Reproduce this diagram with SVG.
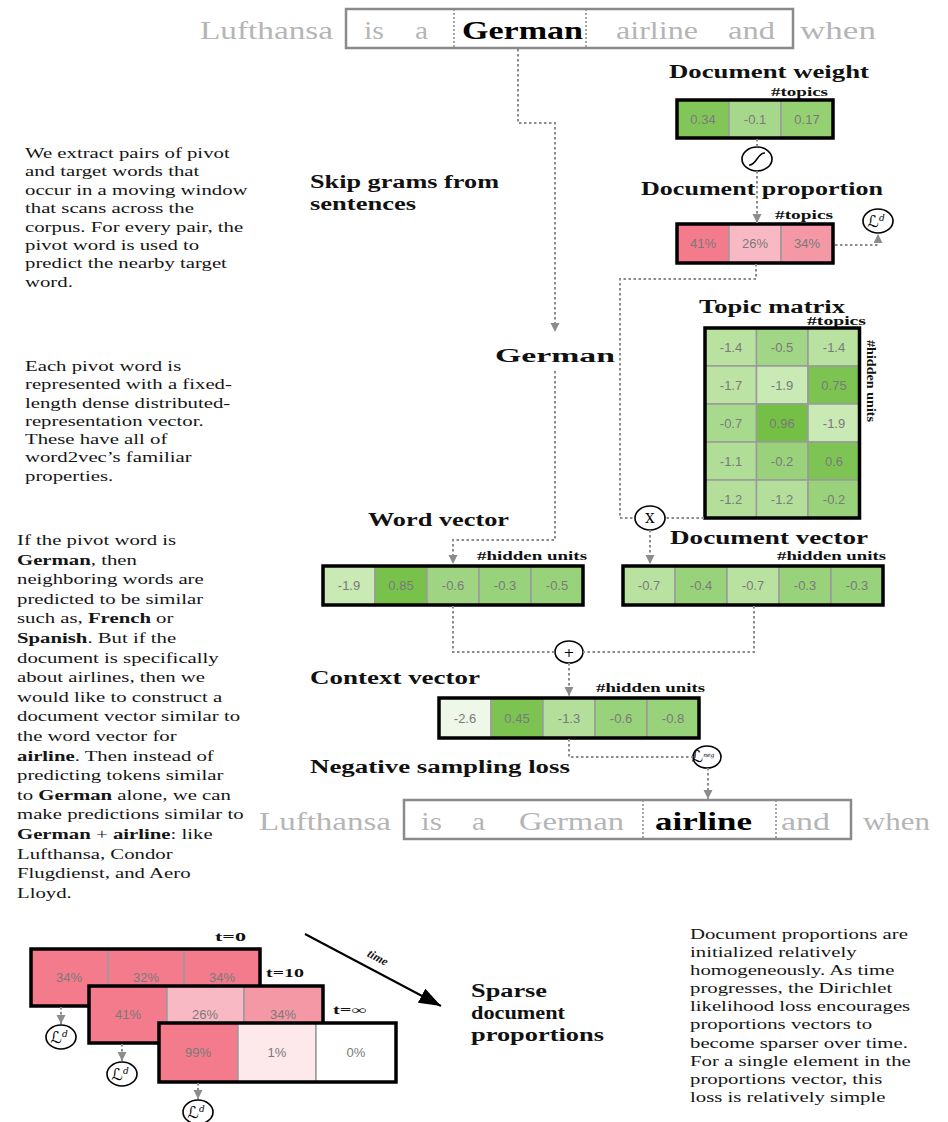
<svg xmlns="http://www.w3.org/2000/svg" width="948" height="1122" viewBox="0 0 948 1122">
<defs>
<style>
.bg{fill:#ffffff}
.lbl{font-family:"Liberation Serif",serif;font-weight:bold;font-size:18px;fill:#111}
.dim{font-family:"Liberation Serif",serif;font-weight:bold;font-size:12px;fill:#111}
.para{font-family:"Liberation Serif",serif;font-size:15.5px;fill:#151515}
.b{font-weight:bold}
.num{font-family:"Liberation Sans",Arial,sans-serif;font-size:13px;fill:#7a7a7a;text-anchor:middle}
.word{font-family:"Liberation Serif",serif;font-size:26px;fill:#b5b5b5}
.word.key{font-weight:bold;fill:#000}
.cell{stroke:#9a9a9a;stroke-width:1.5}
.frame{fill:none;stroke:#000;stroke-width:3.5}
.sent{fill:none;stroke:#8a8a8a;stroke-width:2.5}
.sep{stroke:#8a8a8a;stroke-width:1.5;stroke-dasharray:2 2}
.op{fill:#fff;stroke:#000;stroke-width:1.6}
.optxt{font-family:"DejaVu Serif",serif;font-size:13px;fill:#000;text-anchor:middle}
.loss{font-family:"DejaVu Serif","DejaVu Sans",serif;font-style:italic;font-size:16px;fill:#000;text-anchor:middle}
.dot{fill:none;stroke:#8c8c8c;stroke-width:2;stroke-dasharray:2.5 2.5}
</style>
<marker id="ah" markerUnits="userSpaceOnUse" markerWidth="10" markerHeight="10" refX="9" refY="4.5" orient="auto">
<path d="M0,0 L9,4.5 L0,9 z" fill="#8c8c8c"/>
</marker>
<marker id="ahk" markerUnits="userSpaceOnUse" markerWidth="24" markerHeight="18" refX="22" refY="8" orient="auto">
<path d="M0,0 L22,8 L0,16 z" fill="#000"/>
</marker>
</defs>
<rect class="bg" x="0" y="0" width="948" height="1122"/>

<!-- input sentence with the skip-gram window -->
<g id="sentence-top">
<rect class="sent" x="346" y="9" width="447" height="39"/>
<line class="sep" x1="454" y1="9" x2="454" y2="48"/>
<line class="sep" x1="586" y1="9" x2="586" y2="48"/>
<text class="word" x="200" y="39" textLength="133" lengthAdjust="spacingAndGlyphs">Lufthansa</text>
<text class="word" x="364" y="39" textLength="20" lengthAdjust="spacingAndGlyphs">is</text>
<text class="word" x="415" y="39" textLength="13" lengthAdjust="spacingAndGlyphs">a</text>
<text class="word key" x="462" y="39" textLength="121" lengthAdjust="spacingAndGlyphs">German</text>
<text class="word" x="616" y="39" textLength="82" lengthAdjust="spacingAndGlyphs">airline</text>
<text class="word" x="728" y="39" textLength="47" lengthAdjust="spacingAndGlyphs">and</text>
<text class="word" x="800" y="39" textLength="76" lengthAdjust="spacingAndGlyphs">when</text>
</g>

<!-- explanatory notes -->
<g id="note-skipgram">
<text class="para" transform="translate(25 158) scale(1.34 1)">
<tspan x="0" y="0">We extract pairs of pivot</tspan>
<tspan x="0" y="18.4">and target words that</tspan>
<tspan x="0" y="36.8">occur  in a moving window</tspan>
<tspan x="0" y="55.2">that scans across the</tspan>
<tspan x="0" y="73.6">corpus. For every pair, the</tspan>
<tspan x="0" y="92">pivot word is used to</tspan>
<tspan x="0" y="110.4">predict the nearby target</tspan>
<tspan x="0" y="128.8">word.</tspan>
</text>
</g>
<g id="note-wordvec">
<text class="para" transform="translate(25 371) scale(1.34 1)">
<tspan x="0" y="0">Each pivot word is</tspan>
<tspan x="0" y="18.3">represented with a fixed-</tspan>
<tspan x="0" y="36.6">length dense distributed-</tspan>
<tspan x="0" y="54.9">representation vector.</tspan>
<tspan x="0" y="73.2">These have all of</tspan>
<tspan x="0" y="91.5">word2vec’s familiar</tspan>
<tspan x="0" y="109.8">properties.</tspan>
</text>
</g>
<g id="note-context" class="para" transform="translate(17 545) scale(1.34 1)">
<text x="0" y="0">If the pivot word is</text>
<text x="0" y="19.6"><tspan class="b">German</tspan>, then</text>
<text x="0" y="39.2">neighboring words are</text>
<text x="0" y="58.8">predicted to be similar</text>
<text x="0" y="78.4">such as, <tspan class="b">French</tspan> or</text>
<text x="0" y="98"><tspan class="b">Spanish</tspan>. But if the</text>
<text x="0" y="117.6">document is specifically</text>
<text x="0" y="137.2">about airlines, then we</text>
<text x="0" y="156.8">would like to construct a</text>
<text x="0" y="176.4">document vector similar to</text>
<text x="0" y="196">the word vector for</text>
<text x="0" y="215.6"><tspan class="b">airline</tspan>. Then instead of</text>
<text x="0" y="235.2">predicting tokens similar</text>
<text x="0" y="254.8">to <tspan class="b">German</tspan> alone, we can</text>
<text x="0" y="274.4">make predictions similar to</text>
<text x="0" y="294"><tspan class="b">German</tspan> + <tspan class="b">airline</tspan>: like</text>
<text x="0" y="313.6">Lufthansa, Condor</text>
<text x="0" y="333.2">Flugdienst, and Aero</text>
<text x="0" y="352.8">Lloyd.</text>
</g>
<g id="note-sparsity">
<text class="para" transform="translate(690 939) scale(1.34 1)">
<tspan x="0" y="0">Document proportions are</tspan>
<tspan x="0" y="18.1">initialized relatively</tspan>
<tspan x="0" y="36.2">homogeneously. As time</tspan>
<tspan x="0" y="54.3">progresses, the Dirichlet</tspan>
<tspan x="0" y="72.4">likelihood loss encourages</tspan>
<tspan x="0" y="90.5">proportions vectors to</tspan>
<tspan x="0" y="108.6">become sparser over time.</tspan>
<tspan x="0" y="126.7">For a single element in the</tspan>
<tspan x="0" y="144.8">proportions vector, this</tspan>
<tspan x="0" y="162.9">loss is relatively simple</tspan>
</text>
</g>

<!-- section labels -->
<g id="label-skipgrams">
<text class="lbl" x="310" y="188" textLength="189" lengthAdjust="spacingAndGlyphs">Skip grams from</text>
<text class="lbl" x="310" y="210" textLength="106" lengthAdjust="spacingAndGlyphs">sentences</text>
</g>
<g id="pivot-word">
<text class="lbl" x="495" y="362" font-size="26" textLength="120" lengthAdjust="spacingAndGlyphs">German</text>
</g>

<!-- document weight -->
<g id="doc-weight">
<text class="lbl" x="669" y="78" textLength="200" lengthAdjust="spacingAndGlyphs">Document weight</text>
<text class="dim" x="771" y="96" textLength="57" lengthAdjust="spacingAndGlyphs">#topics</text>
<rect class="cell" x="677" y="100" width="52" height="38" fill="#82c65a"/>
<rect class="cell" x="729" y="100" width="52" height="38" fill="#a5d88b"/>
<rect class="cell" x="781" y="100" width="52" height="38" fill="#95d072"/>
<rect class="frame" x="677" y="100" width="156" height="38"/>
<text class="num" x="703" y="124">0.34</text>
<text class="num" x="755" y="124">-0.1</text>
<text class="num" x="807" y="124">0.17</text>
</g>

<!-- softmax -->
<g id="softmax">
<ellipse class="op" cx="757" cy="159" rx="15" ry="12"/>
<path d="M749 165 C756 166 758 152 765 153" fill="none" stroke="#000" stroke-width="1.5"/>
</g>

<!-- document proportion -->
<g id="doc-proportion">
<text class="lbl" x="641" y="195" textLength="242" lengthAdjust="spacingAndGlyphs">Document proportion</text>
<text class="dim" x="775" y="219" textLength="58" lengthAdjust="spacingAndGlyphs">#topics</text>
<rect class="cell" x="677" y="224" width="52" height="39" fill="#f47b8b"/>
<rect class="cell" x="729" y="224" width="52" height="39" fill="#f9b9c4"/>
<rect class="cell" x="781" y="224" width="52" height="39" fill="#f598a6"/>
<rect class="frame" x="677" y="224" width="156" height="39"/>
<text class="num" x="703" y="248">41%</text>
<text class="num" x="755" y="248">26%</text>
<text class="num" x="807" y="248">34%</text>
</g>
<g id="loss-dirichlet">
<ellipse class="op" cx="878" cy="221" rx="15" ry="12"/>
<text class="loss" x="876" y="227">ℒ<tspan font-size="9" dy="-6">d</tspan></text>
</g>

<!-- topic matrix -->
<g id="topic-matrix">
<text class="lbl" x="699" y="313" textLength="146" lengthAdjust="spacingAndGlyphs">Topic matrix</text>
<text class="dim" x="807" y="325" textLength="59" lengthAdjust="spacingAndGlyphs">#topics</text>
<text class="dim" transform="translate(867 381) rotate(90)" text-anchor="middle" textLength="82" lengthAdjust="spacingAndGlyphs">#hidden units</text>
<rect class="cell" x="705" y="328" width="51.5" height="38" fill="#b9e2a1"/>
<rect class="cell" x="756.5" y="328" width="51.5" height="38" fill="#a0d685"/>
<rect class="cell" x="808" y="328" width="51.5" height="38" fill="#b9e2a1"/>
<rect class="cell" x="705" y="366" width="51.5" height="38" fill="#bce3a4"/>
<rect class="cell" x="756.5" y="366" width="51.5" height="38" fill="#c9e9b5"/>
<rect class="cell" x="808" y="366" width="51.5" height="38" fill="#7cc352"/>
<rect class="cell" x="705" y="404" width="51.5" height="38" fill="#a8da8e"/>
<rect class="cell" x="756.5" y="404" width="51.5" height="38" fill="#74c045"/>
<rect class="cell" x="808" y="404" width="51.5" height="38" fill="#c9e9b5"/>
<rect class="cell" x="705" y="442" width="51.5" height="38" fill="#b0de96"/>
<rect class="cell" x="756.5" y="442" width="51.5" height="38" fill="#99d27b"/>
<rect class="cell" x="808" y="442" width="51.5" height="38" fill="#7dc454"/>
<rect class="cell" x="705" y="480" width="51.5" height="38" fill="#b3df9a"/>
<rect class="cell" x="756.5" y="480" width="51.5" height="38" fill="#b3df9a"/>
<rect class="cell" x="808" y="480" width="51.5" height="38" fill="#99d27b"/>
<rect class="frame" x="705" y="328" width="154.5" height="190"/>
<text class="num" x="731" y="351.5">-1.4</text>
<text class="num" x="782" y="351.5">-0.5</text>
<text class="num" x="834" y="351.5">-1.4</text>
<text class="num" x="731" y="389.5">-1.7</text>
<text class="num" x="782" y="389.5">-1.9</text>
<text class="num" x="834" y="389.5">0.75</text>
<text class="num" x="731" y="427.5">-0.7</text>
<text class="num" x="782" y="427.5">0.96</text>
<text class="num" x="834" y="427.5">-1.9</text>
<text class="num" x="731" y="465.5">-1.1</text>
<text class="num" x="782" y="465.5">-0.2</text>
<text class="num" x="834" y="465.5">0.6</text>
<text class="num" x="731" y="503.5">-1.2</text>
<text class="num" x="782" y="503.5">-1.2</text>
<text class="num" x="834" y="503.5">-0.2</text>
</g>

<!-- matrix product -->
<g id="product">
<ellipse class="op" cx="650" cy="518" rx="15" ry="12"/>
<text class="optxt" x="650" y="523">X</text>
</g>

<!-- word vector -->
<g id="word-vector">
<text class="lbl" x="368" y="526" textLength="141" lengthAdjust="spacingAndGlyphs">Word vector</text>
<text class="dim" x="477" y="560" textLength="110" lengthAdjust="spacingAndGlyphs">#hidden units</text>
<rect class="cell" x="323" y="566" width="52" height="39" fill="#c9e9b5"/>
<rect class="cell" x="375" y="566" width="52" height="39" fill="#78c24c"/>
<rect class="cell" x="427" y="566" width="52" height="39" fill="#9fd582"/>
<rect class="cell" x="479" y="566" width="52" height="39" fill="#98d27a"/>
<rect class="cell" x="531" y="566" width="52" height="39" fill="#98d27a"/>
<rect class="frame" x="323" y="566" width="260" height="39"/>
<text class="num" x="349" y="590">-1.9</text>
<text class="num" x="401" y="590">0.85</text>
<text class="num" x="453" y="590">-0.6</text>
<text class="num" x="505" y="590">-0.3</text>
<text class="num" x="557" y="590">-0.5</text>
</g>

<!-- document vector -->
<g id="doc-vector">
<text class="lbl" x="670" y="544" textLength="198" lengthAdjust="spacingAndGlyphs">Document vector</text>
<text class="dim" x="777" y="560" textLength="109" lengthAdjust="spacingAndGlyphs">#hidden units</text>
<rect class="cell" x="623" y="566" width="52" height="39" fill="#b9e2a1"/>
<rect class="cell" x="675" y="566" width="52" height="39" fill="#98d27a"/>
<rect class="cell" x="727" y="566" width="52" height="39" fill="#b9e2a1"/>
<rect class="cell" x="779" y="566" width="52" height="39" fill="#98d27a"/>
<rect class="cell" x="831" y="566" width="52" height="39" fill="#98d27a"/>
<rect class="frame" x="623" y="566" width="260" height="39"/>
<text class="num" x="649" y="590">-0.7</text>
<text class="num" x="701" y="590">-0.4</text>
<text class="num" x="753" y="590">-0.7</text>
<text class="num" x="805" y="590">-0.3</text>
<text class="num" x="857" y="590">-0.3</text>
</g>

<!-- sum -->
<g id="sum">
<ellipse class="op" cx="569" cy="652" rx="14" ry="11"/>
<text class="optxt" x="569" y="657" font-size="15">+</text>
</g>

<!-- context vector -->
<g id="context-vector">
<text class="lbl" x="310" y="684" textLength="170" lengthAdjust="spacingAndGlyphs">Context vector</text>
<text class="dim" x="596" y="692" textLength="109" lengthAdjust="spacingAndGlyphs">#hidden units</text>
<rect class="cell" x="439" y="698" width="52" height="40" fill="#eef7e8"/>
<rect class="cell" x="491" y="698" width="52" height="40" fill="#7cc352"/>
<rect class="cell" x="543" y="698" width="52" height="40" fill="#b3df9a"/>
<rect class="cell" x="595" y="698" width="52" height="40" fill="#98d27a"/>
<rect class="cell" x="647" y="698" width="52" height="40" fill="#98d27a"/>
<rect class="frame" x="439" y="698" width="260" height="40"/>
<text class="num" x="465" y="723">-2.6</text>
<text class="num" x="517" y="723">0.45</text>
<text class="num" x="569" y="723">-1.3</text>
<text class="num" x="621" y="723">-0.6</text>
<text class="num" x="673" y="723">-0.8</text>
</g>

<!-- negative sampling -->
<g id="loss-negative">
<text class="lbl" x="310" y="773" textLength="260" lengthAdjust="spacingAndGlyphs">Negative sampling loss</text>
<ellipse class="op" cx="707" cy="757" rx="14" ry="11"/>
<text class="loss" x="703" y="762" font-size="12">ℒ<tspan font-size="6" dy="-5">neg</tspan></text>
</g>

<!-- target sentence -->
<g id="sentence-bottom">
<rect class="sent" x="404" y="800" width="447" height="39"/>
<line class="sep" x1="643" y1="800" x2="643" y2="839"/>
<line class="sep" x1="776" y1="800" x2="776" y2="839"/>
<text class="word" x="259" y="830" textLength="132" lengthAdjust="spacingAndGlyphs">Lufthansa</text>
<text class="word" x="421" y="830" textLength="21" lengthAdjust="spacingAndGlyphs">is</text>
<text class="word" x="472" y="830" textLength="13" lengthAdjust="spacingAndGlyphs">a</text>
<text class="word" x="519" y="830" textLength="105" lengthAdjust="spacingAndGlyphs">German</text>
<text class="word key" x="655" y="830" textLength="97" lengthAdjust="spacingAndGlyphs">airline</text>
<text class="word" x="781" y="830" textLength="49" lengthAdjust="spacingAndGlyphs">and</text>
<text class="word" x="863" y="830" textLength="67" lengthAdjust="spacingAndGlyphs">when</text>
</g>

<!-- proportions over training time -->
<g id="proportions-t0">
<text class="dim" x="215" y="941" font-size="13" textLength="31" lengthAdjust="spacingAndGlyphs">t=0</text>
<rect class="cell" x="31" y="949" width="77" height="57" fill="#f47b8b"/>
<rect class="cell" x="108" y="949" width="76" height="57" fill="#f47b8b"/>
<rect class="cell" x="184" y="949" width="76" height="57" fill="#f47b8b"/>
<rect class="frame" x="31" y="949" width="229" height="57"/>
<text class="num" x="69" y="982">34%</text>
<text class="num" x="146" y="982">32%</text>
<text class="num" x="222" y="982">34%</text>
<ellipse class="op" cx="61" cy="1037" rx="15" ry="12"/>
<text class="loss" x="59" y="1043">ℒ<tspan font-size="9" dy="-6">d</tspan></text>
</g>
<g id="proportions-t10">
<text class="dim" x="266" y="977" font-size="13" textLength="38" lengthAdjust="spacingAndGlyphs">t=10</text>
<rect class="cell" x="89" y="986" width="78" height="57" fill="#f47b8b"/>
<rect class="cell" x="167" y="986" width="77" height="57" fill="#f9b9c4"/>
<rect class="cell" x="244" y="986" width="79" height="57" fill="#f598a6"/>
<rect class="frame" x="89" y="986" width="234" height="57"/>
<text class="num" x="128" y="1019">41%</text>
<text class="num" x="205" y="1019">26%</text>
<text class="num" x="283" y="1019">34%</text>
<ellipse class="op" cx="122" cy="1074" rx="15" ry="12"/>
<text class="loss" x="120" y="1080">ℒ<tspan font-size="9" dy="-6">d</tspan></text>
</g>
<g id="proportions-tinf">
<text class="dim" x="333" y="1014" font-size="13" textLength="33" lengthAdjust="spacingAndGlyphs">t=∞</text>
<rect class="cell" x="159" y="1023" width="79" height="59" fill="#f47b8b"/>
<rect class="cell" x="238" y="1023" width="78" height="59" fill="#fde8ec"/>
<rect class="cell" x="316" y="1023" width="80" height="59" fill="#ffffff"/>
<rect class="frame" x="159" y="1023" width="237" height="59"/>
<text class="num" x="198" y="1057">99%</text>
<text class="num" x="277" y="1057">1%</text>
<text class="num" x="356" y="1057">0%</text>
<ellipse class="op" cx="198" cy="1112" rx="15" ry="12"/>
<text class="loss" x="196" y="1118">ℒ<tspan font-size="9" dy="-6">d</tspan></text>
</g>
<g id="time-axis">
<line x1="305" y1="934" x2="441" y2="1006" stroke="#000" stroke-width="2" marker-end="url(#ahk)"/>
<text class="dim" font-style="italic" transform="translate(376 961) rotate(28)" text-anchor="middle" font-size="13">time</text>
</g>
<g id="label-sparse">
<text class="lbl" x="471" y="997" textLength="76" lengthAdjust="spacingAndGlyphs">Sparse</text>
<text class="lbl" x="471" y="1019" textLength="94" lengthAdjust="spacingAndGlyphs">document</text>
<text class="lbl" x="471" y="1041" textLength="133" lengthAdjust="spacingAndGlyphs">proportions</text>
</g>

<!-- dotted data-flow connectors -->
<g id="connectors">
<path class="dot" d="M518 49 V123 H555 V332" marker-end="url(#ah)"/>
<path class="dot" d="M555 371 V540 H453 V564" marker-end="url(#ah)"/>
<path class="dot" d="M757 139 V147"/>
<path class="dot" d="M757 171 V223" marker-end="url(#ah)"/>
<path class="dot" d="M835 245 H878 V234" marker-end="url(#ah)"/>
<path class="dot" d="M756 264 V279 H620 V518 H635"/>
<path class="dot" d="M704 518 H665"/>
<path class="dot" d="M650 530 V564" marker-end="url(#ah)"/>
<path class="dot" d="M453 606 V652 H555"/>
<path class="dot" d="M754 606 V652 H583"/>
<path class="dot" d="M569 663 V696" marker-end="url(#ah)"/>
<path class="dot" d="M569 739 V757 H693"/>
<path class="dot" d="M708 768 V799" marker-end="url(#ah)"/>
<path class="dot" d="M61 1007 V1024" marker-end="url(#ah)"/>
<path class="dot" d="M122 1044 V1061" marker-end="url(#ah)"/>
<path class="dot" d="M198 1083 V1099" marker-end="url(#ah)"/>
</g>
</svg>
